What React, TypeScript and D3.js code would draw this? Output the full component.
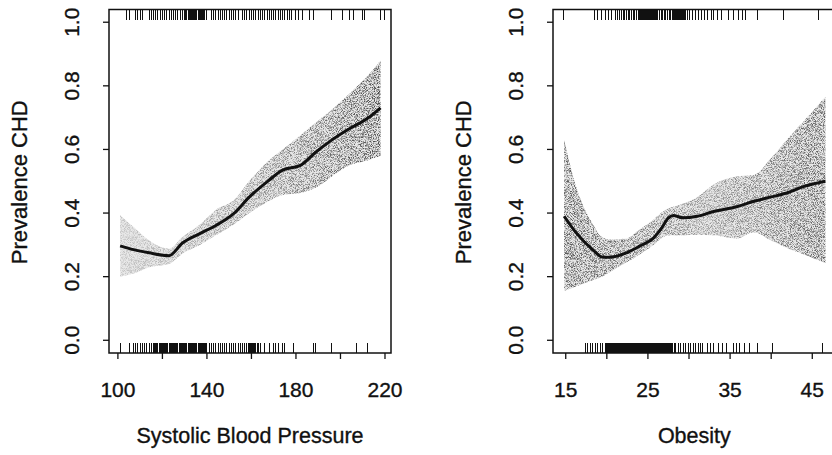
import React from "react";
import * as d3 from "d3";

// ---------- data ----------
const sbpGrid = [101, 107, 114, 123, 129, 137, 144, 152, 159, 167, 174, 182, 189, 197, 204, 212, 218];
const sbpFit = [0.297, 0.285, 0.275, 0.266, 0.306, 0.336, 0.361, 0.398, 0.45, 0.498, 0.535, 0.55, 0.592, 0.634, 0.665, 0.697, 0.731];
const sbpUpper = [0.393, 0.356, 0.314, 0.288, 0.325, 0.365, 0.41, 0.44, 0.5, 0.56, 0.6, 0.645, 0.685, 0.73, 0.775, 0.83, 0.88];
const sbpLower = [0.2, 0.21, 0.23, 0.24, 0.272, 0.3, 0.33, 0.364, 0.4, 0.435, 0.457, 0.463, 0.48, 0.52, 0.55, 0.565, 0.58];

const sbpRugCHD = [104, 105, 108, 109, 110, 111, 114, 115, 116, 117, 118, 119, 120, 121, 122, 123, 124, 125, 126, 127, 128, 129, 130, 130.5, 131, 131.5, 132, 132.5, 133, 133.5, 134, 134.5, 135, 135.5, 136, 136.5, 137, 137.5, 138, 138.5, 139, 140, 142, 143, 144, 145, 146, 147, 148, 149, 150, 151, 152, 153, 154, 156, 157, 158, 159, 160, 161, 162, 163, 164, 165, 166, 167, 168, 169, 170, 171, 172, 173, 174, 175, 176, 177, 178, 180, 181, 183, 186, 188, 196, 201, 204, 206, 210, 211, 218, 220];
const sbpRugNoCHD = [101, 105, 107, 108, 109, 110, 111, 112, 113, 114, 115, 116, 116.5, 117, 117.5, 118, 118.5, 119, 119.5, 120, 120.5, 121, 121.5, 122, 122.5, 123, 123.5, 124, 124.5, 125, 125.5, 126, 126.5, 127, 127.5, 128, 128.5, 129, 129.5, 130, 130.5, 131, 131.5, 132, 132.5, 133, 133.5, 134, 134.5, 135, 135.5, 136, 136.5, 137, 137.5, 138, 138.5, 139, 139.5, 140, 141, 142, 143, 144, 145, 146, 147, 148, 149, 150, 151, 152, 153, 154, 155, 156, 157, 158, 158.5, 159, 159.5, 160, 160.5, 161, 161.5, 162, 162.5, 163, 164, 166, 168, 170, 171, 172, 174, 175, 179, 188, 189, 196, 207, 212];

const obGrid = [14.8, 16.3, 18.4, 19.4, 20.4, 22.4, 24.0, 25.7, 26.6, 27.5, 28.1, 29.3, 31.0, 33.0, 35.8, 37.9, 39.9, 41.9, 44.0, 46.6];
const obFit = [0.39, 0.337, 0.282, 0.262, 0.261, 0.275, 0.296, 0.322, 0.35, 0.385, 0.392, 0.385, 0.39, 0.405, 0.42, 0.437, 0.45, 0.463, 0.484, 0.5];
const obUpper = [0.63, 0.48, 0.36, 0.325, 0.317, 0.32, 0.348, 0.38, 0.4, 0.415, 0.42, 0.43, 0.45, 0.49, 0.515, 0.52, 0.57, 0.63, 0.69, 0.766];
const obLower = [0.155, 0.17, 0.19, 0.2, 0.215, 0.245, 0.27, 0.3, 0.32, 0.33, 0.33, 0.33, 0.332, 0.33, 0.32, 0.34, 0.315, 0.29, 0.27, 0.243];

const obRugCHD = [14.7, 18.5, 18.9, 19.4, 19.8, 20.2, 20.6, 21.0, 21.3, 21.6, 21.8, 22.0, 22.2, 22.4, 22.6, 22.8, 23.0, 23.2, 23.4, 23.6, 23.8, 24.0, 24.1, 24.2, 24.3, 24.4, 24.5, 24.6, 24.7, 24.8, 24.9, 25.0, 25.1, 25.2, 25.3, 25.4, 25.5, 25.6, 25.7, 25.8, 25.9, 26.0, 26.2, 26.4, 26.6, 26.8, 27.0, 27.2, 27.4, 27.6, 27.8, 28.0, 28.1, 28.2, 28.3, 28.4, 28.5, 28.6, 28.7, 28.8, 28.9, 29.0, 29.1, 29.2, 29.3, 29.4, 29.5, 29.6, 29.8, 30.1, 30.4, 30.8, 31.1, 31.5, 31.9, 32.3, 32.7, 33.0, 33.5, 33.9, 34.8, 35.4, 36.0, 36.5, 36.9, 38.3, 41.5, 45.8];
const obRugNoCHD = [17.4, 17.7, 18.0, 18.3, 18.6, 18.9, 19.2, 19.5, 19.8, 20.0, 20.1, 20.2, 20.3, 20.4, 20.5, 20.6, 20.7, 20.8, 20.9, 21.0, 21.1, 21.2, 21.3, 21.4, 21.5, 21.6, 21.7, 21.8, 21.9, 22.0, 22.1, 22.2, 22.3, 22.4, 22.5, 22.6, 22.7, 22.8, 22.9, 23.0, 23.1, 23.2, 23.3, 23.4, 23.5, 23.6, 23.7, 23.8, 23.9, 24.0, 24.1, 24.2, 24.3, 24.4, 24.5, 24.6, 24.7, 24.8, 24.9, 25.0, 25.1, 25.2, 25.3, 25.4, 25.5, 25.6, 25.7, 25.8, 25.9, 26.0, 26.1, 26.2, 26.3, 26.4, 26.5, 26.6, 26.7, 26.8, 26.9, 27.0, 27.1, 27.2, 27.3, 27.4, 27.5, 27.6, 27.7, 27.8, 27.9, 28.0, 28.2, 28.4, 28.7, 29.0, 29.3, 29.6, 29.9, 30.2, 30.5, 30.8, 31.1, 31.4, 31.7, 32.2, 32.6, 33.0, 33.6, 34.1, 34.6, 35.4, 35.8, 36.2, 36.7, 37.4, 38.3, 40.1, 46.3];

const yTicks = [0, 0.2, 0.4, 0.6, 0.8, 1.0];
const sbpTicks = [100, 120, 140, 160, 180, 200, 220];
const sbpLabels = [100, 140, 180, 220];
const obTicks = [15, 20, 25, 30, 35, 40, 45];
const obLabels = [15, 25, 35, 45];

const FONT = "'Liberation Sans', Arial, Helvetica, sans-serif";

type PanelProps = {
  id: string;
  left: number;
  right: number;
  xDomain: [number, number];
  grid: number[];
  fit: number[];
  upper: number[];
  lower: number[];
  rugTop: number[];
  rugBottom: number[];
  ticks: number[];
  labels: number[];
  xTitle: string;
  gradStops: [number, string][];
};

const TOP = 9.5;
const BOTTOM = 353;

const textStyle = {
  fontFamily: FONT,
  fill: "#111",
  stroke: "#111",
  strokeWidth: 0.35,
};

function Panel(p: PanelProps) {
  const x = d3.scaleLinear().domain(p.xDomain).range([p.left, p.right]);
  const y = d3.scaleLinear().domain([-0.04, 1.04]).range([BOTTOM, TOP]);
  const idx = p.grid.map((_, i) => i);
  const area = d3
    .area<number>()
    .x((i) => x(p.grid[i]))
    .y0((i) => y(p.lower[i]))
    .y1((i) => y(p.upper[i]))
    .curve(d3.curveMonotoneX);
  const line = d3
    .line<number>()
    .x((i) => x(p.grid[i]))
    .y((i) => y(p.fit[i]))
    .curve(d3.curveMonotoneX);
  const cx = (p.left + p.right) / 2;
  const yLabX = p.left - 30;
  const yTitleX = p.left - 82;
  const rugLen = 10;
  return (
    <g>
      <defs>
        <linearGradient id={`g-${p.id}`} x1="0" x2="1" y1="0" y2="0">
          {p.gradStops.map(([o, c], i) => (
            <stop key={i} offset={o} stopColor={c} />
          ))}
        </linearGradient>
      </defs>
      <path d={area(idx) || ""} fill="#e2e2e2" opacity={0.8} />
      <path d={area(idx) || ""} fill={`url(#g-${p.id})`} filter="url(#stip)" />
      <path d={line(idx) || ""} fill="none" stroke="#111" strokeWidth={3} strokeLinejoin="round" />
      {/* rugs */}
      {p.rugTop.map((v, i) => (
        <line key={"t" + i} x1={x(v)} x2={x(v)} y1={TOP} y2={TOP + rugLen} stroke="#111" strokeWidth={1} shapeRendering="crispEdges" />
      ))}
      {p.rugBottom.map((v, i) => (
        <line key={"b" + i} x1={x(v)} x2={x(v)} y1={BOTTOM} y2={BOTTOM - rugLen} stroke="#111" strokeWidth={1} shapeRendering="crispEdges" />
      ))}
      {/* box */}
      <rect x={p.left} y={TOP} width={p.right - p.left} height={BOTTOM - TOP} fill="none" stroke="#111" strokeWidth={1.5} />
      {/* y axis */}
      {yTicks.map((t) => (
        <g key={"y" + t}>
          <line x1={p.left - 6} x2={p.left} y1={y(t)} y2={y(t)} stroke="#111" strokeWidth={1.3} />
          <text
            transform={`translate(${yLabX},${y(t)}) rotate(-90)`}
            textAnchor="middle"
            fontSize={21}
            style={textStyle}
          >
            {t.toFixed(1)}
          </text>
        </g>
      ))}
      {/* x axis */}
      {p.ticks.map((t) => (
        <line key={"x" + t} x1={x(t)} x2={x(t)} y1={BOTTOM} y2={BOTTOM + 6} stroke="#111" strokeWidth={1.3} />
      ))}
      {p.labels.map((t) => (
        <text key={"xl" + t} x={x(t)} y={397} textAnchor="middle" fontSize={21} style={textStyle}>
          {t}
        </text>
      ))}
      <text x={cx} y={443} textAnchor="middle" fontSize={21.5} style={textStyle}>
        {p.xTitle}
      </text>
      <text
        transform={`translate(${yTitleX},${(TOP + BOTTOM) / 2 + 1}) rotate(-90)`}
        textAnchor="middle"
        fontSize={22}
        style={textStyle}
      >
        Prevalence CHD
      </text>
    </g>
  );
}

export default function App() {
  return (
    <svg
      width={832}
      height={455}
      viewBox="0 0 832 455"
      style={{ position: "absolute", left: 0, top: 0, background: "#fff" }}
    >
      <defs>
        <filter id="stip" x="0" y="0" width="100%" height="100%">
          <feTurbulence type="fractalNoise" baseFrequency="1.3" numOctaves={2} seed={7} result="n" />
          <feColorMatrix
            in="n"
            type="matrix"
            values="0 0 0 0 0  0 0 0 0 0  0 0 0 0 0  3.5 0 0 0 -1.45"
            result="a"
          />
          <feComposite in="SourceGraphic" in2="a" operator="in" />
        </filter>
      </defs>
      <rect x={0} y={0} width={832} height={455} fill="#fff" />
      <Panel
        id="sbp"
        left={109}
        right={391}
        xDomain={[96, 222.7]}
        grid={sbpGrid}
        fit={sbpFit}
        upper={sbpUpper}
        lower={sbpLower}
        rugTop={sbpRugCHD}
        rugBottom={sbpRugNoCHD}
        ticks={sbpTicks}
        labels={sbpLabels}
        xTitle="Systolic Blood Pressure"
        gradStops={[
          [0, "#c4c4c4"],
          [0.3, "#a8a8a8"],
          [0.6, "#8a8a8a"],
          [0.85, "#666"],
          [1, "#4a4a4a"],
        ]}
      />
      <Panel
        id="ob"
        left={553}
        right={835.7}
        xDomain={[13.45, 47.85]}
        grid={obGrid}
        fit={obFit}
        upper={obUpper}
        lower={obLower}
        rugTop={obRugCHD}
        rugBottom={obRugNoCHD}
        ticks={obTicks}
        labels={obLabels}
        xTitle="Obesity"
        gradStops={[
          [0, "#5a5a5a"],
          [0.25, "#707070"],
          [0.55, "#9a9a9a"],
          [0.85, "#707070"],
          [1, "#606060"],
        ]}
      />
    </svg>
  );
}
